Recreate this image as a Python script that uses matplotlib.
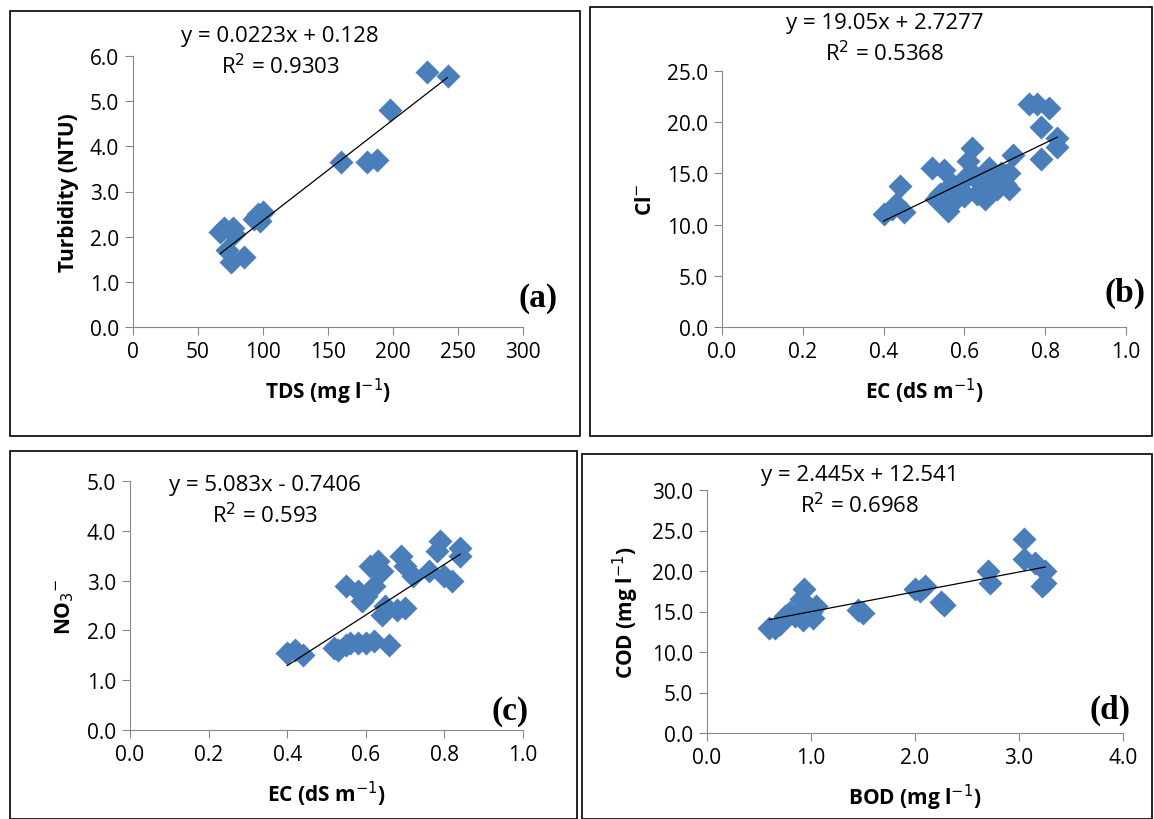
import matplotlib
matplotlib.use("Agg")
import matplotlib.pyplot as plt
from matplotlib.patches import Rectangle
import numpy as np

W, H = 1154, 820
BLUE = "#4a7ebb"

tds = [67, 70, 72, 75, 77, 78, 85, 93, 96, 100, 98, 160, 180, 188, 198, 226, 242]
turb = [2.1, 2.2, 1.7, 1.45, 2.2, 2.05, 1.55, 2.4, 2.5, 2.55, 2.35, 3.65, 3.65, 3.7, 4.8, 5.65, 5.55]

ec_b = [0.40, 0.42, 0.43, 0.44, 0.45, 0.52, 0.55, 0.53, 0.54, 0.55, 0.56, 0.57, 0.58, 0.59, 0.60,
        0.61, 0.62, 0.62, 0.63, 0.64, 0.65, 0.66, 0.67, 0.68, 0.69, 0.70, 0.71, 0.71, 0.72, 0.70,
        0.76, 0.78, 0.79, 0.79, 0.81, 0.83, 0.83, 0.60, 0.57]
cl = [11.0, 11.5, 12.0, 13.8, 11.2, 15.5, 15.3, 12.5, 13.0, 12.0, 11.3, 14.0, 12.5, 13.5, 14.5,
      16.2, 17.5, 15.0, 13.0, 14.0, 12.5, 15.5, 14.5, 13.5, 15.0, 14.0, 13.5, 15.0, 16.8, 14.8,
      21.8, 21.8, 19.5, 16.4, 21.4, 18.5, 17.6, 12.8, 13.2]

ec_c = [0.40, 0.42, 0.44, 0.52, 0.53, 0.55, 0.56, 0.58, 0.60, 0.62, 0.66, 0.55, 0.58, 0.59, 0.60,
        0.61, 0.63, 0.62, 0.64, 0.64, 0.65, 0.69, 0.70, 0.72, 0.68, 0.70, 0.76, 0.79, 0.78, 0.80,
        0.82, 0.84, 0.84]
no3 = [1.55, 1.6, 1.5, 1.65, 1.6, 1.7, 1.75, 1.75, 1.75, 1.78, 1.7, 2.9, 2.8, 2.6, 2.7,
       3.3, 3.4, 2.9, 3.2, 2.3, 2.5, 3.5, 3.3, 3.1, 2.4, 2.45, 3.2, 3.8, 3.6, 3.1,
       3.0, 3.65, 3.5]

bod = [0.6, 0.65, 0.7, 0.75, 0.8, 0.85, 0.9, 0.93, 0.92, 0.95, 1.0, 1.02, 1.05, 1.45, 1.5,
       2.0, 2.1, 2.05, 2.25, 2.28, 2.7, 2.72, 3.05, 3.05, 3.15, 3.25, 3.22, 3.25]
cod = [13.0, 13.0, 13.5, 14.5, 15.0, 14.5, 16.5, 17.8, 14.0, 15.5, 15.0, 14.2, 15.7, 15.2, 14.8,
       17.8, 18.2, 17.5, 16.2, 15.8, 20.0, 18.5, 24.0, 21.5, 21.0, 20.0, 18.2, 18.5]

panels = [
    dict(x=tds, y=turb, m=0.0223, c=0.128, eq="y = 0.0223x + 0.128", r2="0.9303",
         xl="TDS (mg l$^{-1}$)", yl="Turbidity (NTU)", tag="(a)",
         xlim=(0, 300), xt=np.arange(0, 301, 50), xfmt="{:.0f}", ylim=(0, 6), yt=np.arange(0, 6.1, 1),
         ax=(133, 328, 523, 57), box=(10, 12, 580, 437), eqxy=(280, 26), tagxy=(538, 298)),
    dict(x=ec_b, y=cl, m=19.05, c=2.7277, eq="y = 19.05x + 2.7277", r2="0.5368",
         xl="EC (dS m$^{-1}$)", yl="Cl$^{-}$", tag="(b)",
         xlim=(0, 1), xt=np.arange(0, 1.01, 0.2), xfmt="{:.1f}", ylim=(0, 25), yt=np.arange(0, 26, 5),
         ax=(722, 328, 1126, 72), box=(590, 8, 1152, 437), eqxy=(885, 13), tagxy=(1125, 293)),
    dict(x=ec_c, y=no3, m=5.083, c=-0.7406, eq="y = 5.083x - 0.7406", r2="0.593",
         xl="EC (dS m$^{-1}$)", yl="NO$_3$$^{-}$", tag="(c)",
         xlim=(0, 1), xt=np.arange(0, 1.01, 0.2), xfmt="{:.1f}", ylim=(0, 5), yt=np.arange(0, 5.1, 1),
         ax=(130, 731, 523, 482), box=(10, 452, 577, 820), eqxy=(265, 475), tagxy=(510, 712)),
    dict(x=bod, y=cod, m=2.445, c=12.541, eq="y = 2.445x + 12.541", r2="0.6968",
         xl="BOD (mg l$^{-1}$)", yl="COD (mg l$^{-1}$)", tag="(d)",
         xlim=(0, 4), xt=np.arange(0, 4.1, 1), xfmt="{:.1f}", ylim=(0, 30), yt=np.arange(0, 31, 5),
         ax=(707, 734, 1123, 491), box=(582, 455, 1152, 820), eqxy=(860, 465), tagxy=(1110, 710)),
]

fig = plt.figure(figsize=(W / 100, H / 100), dpi=100)
plt.rcParams["font.family"] = ["Open Sans", "DejaVu Sans"]

for p in panels:
    x0, yb, x1, yt_ = p["ax"]
    ax = fig.add_axes([x0 / W, 1 - yb / H, (x1 - x0) / W, (yb - yt_) / H])
    bx0, by0, bx1, by1 = p["box"]
    fig.patches.append(Rectangle((bx0 / W, 1 - by1 / H), (bx1 - bx0) / W, (by1 - by0) / H,
                                 transform=fig.transFigure, fill=False, edgecolor="black", lw=1.2))
    ax.scatter(p["x"], p["y"], marker="D", s=150, color=BLUE, zorder=2, linewidths=0)
    xs = np.array([min(p["x"]), max(p["x"])])
    ax.plot(xs, p["m"] * xs + p["c"], color="black", lw=0.9, zorder=3)
    ax.set_xlim(*p["xlim"])
    ax.set_ylim(*p["ylim"])
    ax.set_xticks(p["xt"])
    ax.set_xticklabels([p["xfmt"].format(v) for v in p["xt"]], fontsize=15)
    ax.set_yticks(p["yt"])
    ax.set_yticklabels(["{:.1f}".format(v) for v in p["yt"]], fontsize=15)
    for s in ["top", "right"]:
        ax.spines[s].set_visible(False)
    for s in ["left", "bottom"]:
        ax.spines[s].set_color("#888888")
    ax.tick_params(direction="out", length=6, color="#888888", pad=4)
    ax.set_xlabel(p["xl"], fontsize=15, fontweight="bold", labelpad=10)
    ax.set_ylabel(p["yl"], fontsize=15, fontweight="bold", labelpad=8)
    ex, ey = p["eqxy"]
    fig.text(ex / W, 1 - ey / H, p["eq"] + "\nR$^2$ = " + p["r2"], fontsize=16,
             ha="center", va="top", linespacing=1.35)
    tx, ty = p["tagxy"]
    fig.text(tx / W, 1 - ty / H, p["tag"], fontsize=24, fontweight="bold",
             family="Liberation Serif", ha="center", va="center")

fig.savefig("out.png", dpi=100)
